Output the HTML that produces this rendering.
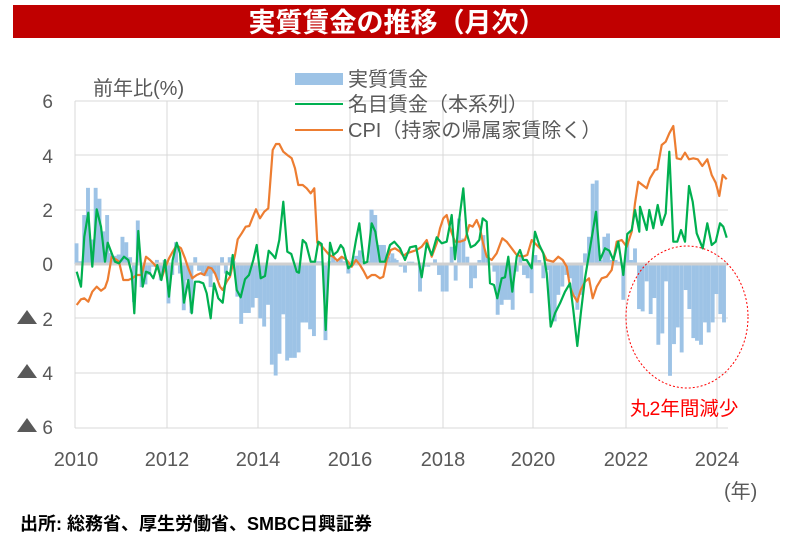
<!DOCTYPE html>
<html><head><meta charset="utf-8">
<style>
body{margin:0;background:#fff;width:794px;height:544px;overflow:hidden;font-family:"Liberation Sans","Noto Sans CJK JP",sans-serif}
</style></head><body>
<svg id="s" width="794" height="544" xmlns="http://www.w3.org/2000/svg" style="position:absolute;left:0;top:0;font-family:'Liberation Sans','Noto Sans CJK JP',sans-serif">
<rect x="13" y="5" width="767" height="33" fill="#C00000"/>
<text x="397" y="32" text-anchor="middle" font-size="27" font-weight="bold" fill="#fff">実質賃金の推移（月次）</text>
<g id="grid" stroke="#d9d9d9" stroke-width="1"></g>
<g id="bars" fill="#9DC3E6"></g>
<line x1="75" y1="264" x2="728" y2="264" stroke="#d0d0d0" stroke-width="3"/>
<polyline id="or" fill="none" stroke="#ED7D31" stroke-width="2.2" stroke-linejoin="round"/>
<polyline id="gr" fill="none" stroke="#00B050" stroke-width="2.2" stroke-linejoin="round"/>
<ellipse cx="687" cy="317" rx="61" ry="71" fill="none" stroke="#FF0000" stroke-width="1" stroke-dasharray="2,2"/>
<text x="630" y="415" font-size="19.5" fill="#FF0000">丸2年間減少</text>
<g font-size="19" fill="#595959">
<text x="93" y="95" font-size="20">前年比(%)</text>
<text x="53" y="108" text-anchor="end">6</text>
<text x="53" y="163" text-anchor="end">4</text>
<text x="53" y="217" text-anchor="end">2</text>
<text x="53" y="271" text-anchor="end">0</text>
<text x="53" y="326" text-anchor="end">2</text>
<text x="53" y="380" text-anchor="end">4</text>
<text x="53" y="434" text-anchor="end">6</text>
<polygon points="17,324 27,310 37,324"/>
<polygon points="17,378 27,364 37,378"/>
<polygon points="17,432 27,418 37,432"/>
<g font-size="20">
<text x="76" y="466" text-anchor="middle">2010</text>
<text x="167" y="466" text-anchor="middle">2012</text>
<text x="258" y="466" text-anchor="middle">2014</text>
<text x="350" y="466" text-anchor="middle">2016</text>
<text x="443" y="466" text-anchor="middle">2018</text>
<text x="533" y="466" text-anchor="middle">2020</text>
<text x="626" y="466" text-anchor="middle">2022</text>
<text x="717" y="466" text-anchor="middle">2024</text>
<text x="724" y="498">(年)</text>
</g>
<rect x="295" y="73" width="48" height="12" fill="#9DC3E6"/>
<line x1="295" y1="104" x2="343" y2="104" stroke="#00B050" stroke-width="2"/>
<line x1="295" y1="130" x2="343" y2="130" stroke="#ED7D31" stroke-width="2"/>
<g font-size="20">
<text x="348" y="86">実質賃金</text>
<text x="348" y="111">名目賃金（本系列）</text>
<text x="348" y="137">CPI（持家の帰属家賃除く）</text>
</g>
</g>
<text x="20" y="530" font-size="18" font-weight="bold" fill="#000">出所: 総務省、厚生労働省、SMBC日興証券</text>
</svg>
<script>
var NS="http://www.w3.org/2000/svg";
function el(p,t,a){var e=document.createElementNS(NS,t);for(var k in a)e.setAttribute(k,a[k]);document.getElementById(p).appendChild(e);}
[101,155,210,264,318,373,428].forEach(function(y){el("grid","line",{x1:75,x2:728,y1:y,y2:y});});
[75,167,258,350,443,533,626,717].forEach(function(x){el("grid","line",{x1:x,x2:x,y1:101,y2:428});});
function z1(a){return a.map(function(p){return [p[0]/3,p[1]/3+60];});}
function z3(a){return a.map(function(p){return [340+p[0]/3,160+p[1]/3];});}
function z2(a){return a.map(function(p){return [400+p[0]/3,60+p[1]/3];});}
var g=z1([[230,635],[243,680],[253,530],[265,458],[277,620],[290,448],[303,500],[315,605],[323,548],[335,580],[345,605],[357,610],[372,590],[385,600],[395,640],[403,760],[415,513],[428,680],[438,635],[450,640],[460,655],[472,615],[484,660],[495,600],[507,710],[518,600],[530,548],[540,580],[552,728],[565,660],[575,760],[585,665],[597,665],[610,670],[620,700],[632,775],[642,670],[655,715],[668,728],[680,635],[690,645],[698,585],[710,690],[722,712],[735,658],[747,645],[760,600],[770,555],[782,655],[795,648],[806,572],[818,585],[826,595],[838,540],[850,425],[862,575],[874,582],[890,635],[897,638],[908,540],[918,550],[932,605],[945,605],[955,545],[965,552],[977,810],[990,548],[1000,585],[1012,575],[1022,555],[1030,565],[1045,625],[1055,615],[1068,540],[1078,490],[1092,610],[1102,605],[1115,490],[1126,515],[1140,605],[1155,605],[1170,555],[1183,545],[1200,565]])
.concat(z3([[195,300],[210,262],[228,258],[245,352],[260,250],[275,285],[290,232],[305,250],[320,245],[335,165],[345,298],[355,200],[370,85],[380,220],[392,262],[405,255],[418,240],[428,175],[440,185],[450,370],[462,375],[472,415],[485,355],[495,352],[505,290],[517,395],[530,290],[540,270],[550,300],[560,300],[575,325],[585,215],[598,255],[610,280],[620,340],[632,500],[645,460],[660,430],[675,395],[690,370],[700,450],[712,558],[723,455],[735,355],[750,265],[768,155],[780,300],[795,265],[808,272],[820,300],[835,245],[850,345],[862,222],[875,210],[885,150],[898,215]]))
.concat(z2([[720,440],[740,510],[748,450],[760,505],[773,435],[785,495],[797,460],[808,275],[820,545],[832,545],[843,510],[855,545],[867,378],[878,425],[890,520],[908,565],[922,490],[935,555],[947,545],[960,490],[970,500],[980,533]]));
var o=z1([[230,735],[243,718],[253,715],[265,725],[277,695],[290,680],[303,692],[315,683],[323,660],[335,590],[347,598],[357,605],[370,660],[385,660],[397,655],[410,645],[425,645],[438,590],[450,600],[462,612],[475,628],[484,658],[495,625],[507,595],[518,575],[530,556],[543,565],[555,595],[565,625],[577,655],[590,645],[602,640],[613,645],[625,622],[635,625],[645,640],[660,680],[668,690],[680,665],[690,650],[705,585],[713,538],[725,520],[737,500],[748,498],[757,475],[768,448],[780,475],[793,455],[805,445],[818,270],[828,252],[838,252],[850,275],[862,285],[875,295],[885,325],[895,375],[908,375],[920,385],[932,400],[943,385],[952,548],[962,555],[975,570],[988,585],[1000,590],[1012,602],[1025,590],[1040,600],[1055,620],[1068,600],[1080,615],[1092,635],[1102,655],[1115,645],[1126,645],[1140,655],[1150,650],[1160,600],[1172,570],[1185,565],[1200,575]])
.concat(z3([[190,288],[200,280],[215,275],[230,270],[245,260],[260,240],[275,290],[290,250],[300,205],[310,175],[320,165],[330,205],[345,245],[360,245],[375,240],[388,195],[398,200],[410,180],[420,205],[428,245],[440,290],[455,300],[470,280],[487,235],[500,245],[515,265],[530,285],[548,290],[562,285],[575,240],[590,255],[605,270],[620,300],[640,305],[655,290],[668,300],[680,320],[690,380],[700,405],[712,425],[722,390],[735,365],[747,355],[758,415],[770,380],[785,355],[800,350],[815,330],[830,245],[845,240],[860,260],[875,215],[885,130]]))
.concat(z2([[715,365],[740,385],[750,355],[765,330],[772,328],[785,255],[797,245],[808,220],[820,198],[830,295],[843,298],[855,278],[867,298],[880,295],[893,298],[907,318],[922,298],[935,345],[947,368],[958,408],[968,345],[980,358]]));
document.getElementById("gr").setAttribute("points",g.map(function(p){return p[0].toFixed(1)+","+p[1].toFixed(1)}).join(" "));
document.getElementById("or").setAttribute("points",o.map(function(p){return p[0].toFixed(1)+","+p[1].toFixed(1)}).join(" "));
var v1=[0.76,0.1,1.8,2.8,0.9,2.8,2.4,1.2,1.8,0.4,0.3,0.35, 1.0,0.8,0.25,-1.4,1.6,-0.85,-0.75,-0.4,-0.1,0.15,-0.6,0.15, -1.45,-0.4,0.8,-0.35,-1.7,-0.6,-1.8,0.25,-0.25,-0.35,-0.45,-0.85, -0.35,-0.6,0.25,-0.35,0.25,0.1,-1.2,-2.2,-1.8,-1.8,-1.6,-1.25, -2.0,-2.3,-1.5,-3.7,-4.1,-3.3,-1.85,-3.55,-3.45,-3.45,-3.25,-2.15, -2.15,-2.4,-2.65,0.1,0.1,-2.8,0.1,0.3,0.1,0.2,0.1,-0.35, 0.1,0.3,0.5,0.1,0.1,2.0,1.8,0.7,0.7,0.3,0.1,0.2];
var Z3=[[25,340],[45,300],[57,300],[95,150],[105,165],[120,255],[132,255],[145,290],[157,280],[170,300],[182,320],[195,338],[207,305],[217,305],[228,315],[240,395],[252,320],[265,320],[285,298],[297,345],[308,395],[320,395],[335,260],[347,362],[357,175],[370,235],[382,290],[393,385],[405,355],[418,300],[430,225],[442,285],[452,315],[463,335],[473,465],[485,435],[496,420],[507,420],[518,450],[530,335],[541,285],[552,345],[563,355],[575,400],[586,285],[598,300],[610,355],[621,330],[632,480],[644,485],[655,405],[667,380],[679,345],[690,355],[701,405],[712,450],[724,405],[735,280],[747,230],[758,70],[770,60],[781,300],[793,230],[804,220],[816,300],[827,300],[839,305],[850,420],[862,245],[873,300],[885,265]];
var Z2=[[717,745],[728,752],[740,662],[752,760],[763,712],[775,852],[787,818],[798,662],[810,945],[822,850],[833,800],[845,875],[857,688],[868,745],[880,832],[891,840],[903,852],[915,785],[926,815],[938,785],[949,700],[961,760],[972,785]];
function bar(x,y){var y0=264;el("bars","rect",{x:(x-1.95).toFixed(2),width:3.9,y:Math.min(y,y0),height:Math.abs(y-y0)});}
for(var i=0;i<v1.length;i++){bar(76.5+i*3.83,264-v1[i]*27.2);}
Z3.forEach(function(p){var v=(312-p[1])/82;bar(340+p[0]/3,264-v*27.2);});
Z2.forEach(function(p){var v=(610-p[1])/81.5;bar(400+p[0]/3,264-v*27.2);});
</script>
</body></html>
